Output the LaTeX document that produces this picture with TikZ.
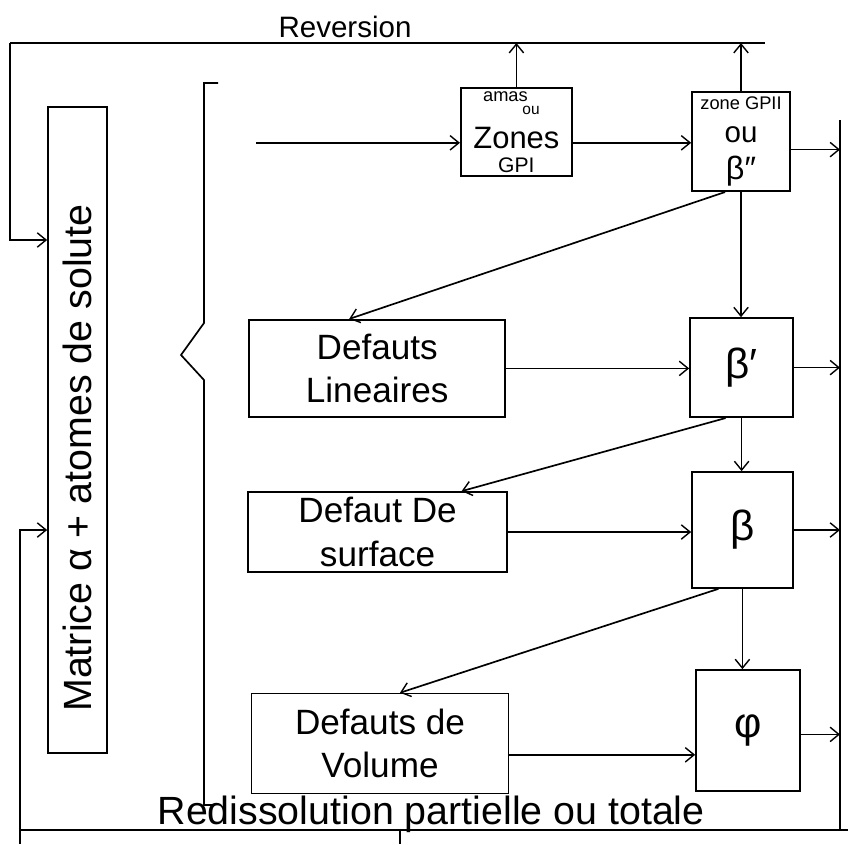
\documentclass[tikz,border=0pt]{standalone}
\usepackage{fontspec}
\setmainfont{Liberation Sans}
\usetikzlibrary{arrows.meta,calc}
\begin{document}
\begin{tikzpicture}[
 bx/.style={draw,line width=1.2pt,align=center,inner sep=2pt,
   font=\fontsize{25}{31}\selectfont},
 sm/.style={font=\fontsize{13}{11}\selectfont},
 gk/.style={font=\fontsize{30}{32}\selectfont},
 a/.style={-{Straight Barb[length=2.2mm,width=3.6mm,line width=1pt]},line width=1.2pt},
 ln/.style={line width=1.2pt}]
\useasboundingbox (0,0) rectangle (21.2,-21.1);
% boxes
\node[bx,sm,minimum width=2.78cm,minimum height=2.2cm] (gp1) at (12.91,-3.30)
  {amas\hspace*{1.2em}\\[-2pt] \hspace*{1.6em}\fontsize{11}{9}\selectfont ou\\[8pt]
   \fontsize{22}{22}\selectfont Zones\\[6pt] \fontsize{15}{17}\selectfont GPI};
\node[bx,sm,minimum width=2.45cm,minimum height=2.48cm] (gp2) at (18.525,-3.54)
  {zone GPII\\[11pt] \fontsize{21}{24}\selectfont ou\\[8pt] \fontsize{23}{24}\selectfont β″};
\node[bx,gk,minimum width=2.58cm,minimum height=2.48cm] (bp) at (18.54,-9.19) {β′};
\node[bx,gk,minimum width=2.52cm,minimum height=2.9cm] (bt) at (18.56,-13.25) {β};
\node[bx,gk,minimum width=2.6cm,minimum height=3.02cm] (phi) at (18.7,-18.26) {φ};
\node[bx,minimum width=6.4cm,minimum height=2.43cm] (dl) at (9.43,-9.21) {Defauts\\Lineaires};
\node[bx,minimum width=6.48cm,minimum height=2.0cm] (ds) at (9.44,-13.3) {Defaut De\\surface};
\node[bx,minimum width=6.43cm,minimum height=2.5cm] (dv) at (9.5,-18.59) {Defauts de\\Volume};
\node[bx,minimum width=1.48cm,minimum height=16.15cm] (mat) at (1.94,-10.75) {};
\node[rotate=90,font=\fontsize{28}{28}\selectfont] (mtx) at (1.94,-11.45)
  {Matrice α + atomes de solute};
% labels
\node[font=\fontsize{21}{21}\selectfont] (rev) at (8.625,-0.68) {Reversion};
\node[anchor=base,font=\fontsize{28}{28}\selectfont] (red) at (10.78,-20.62)
  {Redissolution partielle ou totale};
% coordinates
\coordinate (revL) at (0.25,-1.075);
\coordinate (revR) at (19.13,-1.075);
\coordinate (in0) at (6.4,-3.57);
\coordinate (m1) at (1.2,-6.0);
\coordinate (m2) at (1.2,-13.25);
\coordinate (botL) at (0.5,-20.75);
\coordinate (botR) at (21.2,-20.75);
\coordinate (colT) at (21.0,-3.0);
\coordinate (colB) at (21.0,-20.75);
% reversion and redissolution
\draw[ln] (revL) -- (revR);
\draw[a] (revL) |- (mat.west |- m1);
\draw[a] (gp1.north) -- (gp1.north |- revL);
\draw[a] (gp2.north) -- (gp2.north |- revL);
\draw[ln] (botR) -- (botL) -- ++(0,-0.35);
\draw[a] (botL) |- (mat.west |- m2);
\draw[ln] (10.0,-20.75) -- (10.0,-21.1);
% brace
\draw[ln] (5.45,-2.075) -- (5.1,-2.075) -- (5.1,-8.075) -- (4.525,-8.875)
  -- (5.1,-9.5) -- (5.1,-20.125) -- (5.3,-20.125);
% main chain
\draw[a] (in0) -- (gp1.west |- in0);
\draw[a] (gp1.east |- in0) -- (gp2.west |- in0);
\draw[a] (gp2.south) -- (gp2.south |- bp.north);
\draw[a] (bp.south) -- (bp.south |- bt.north);
\draw[a] (bt.south) -- (bt.south |- phi.north);
\draw[a] (dl.east) -- (dl.east -| bp.west);
\draw[a] (ds.east) -- (ds.east -| bt.west);
\draw[a] ([yshift=-0.28cm]dv.east) -- ([yshift=-0.28cm]dv.east -| phi.west);
\draw[a] ([xshift=-0.4cm]gp2.south) -- ([xshift=-0.7cm]dl.north);
\draw[a] ([xshift=-0.4cm]bp.south) -- ([xshift=2.1cm]ds.north);
\draw[a] ([xshift=-0.6cm]bt.south) -- ([xshift=0.5cm]dv.north);
% outputs
\draw[ln] (colT) -- (colB);
\foreach \n/\d in {gp2/-0.2,bp/0,bt/0,phi/-0.1}
  \draw[a] ([yshift=\d cm]\n.east) -- ([yshift=\d cm]\n.east -| colT);
\end{tikzpicture}
\end{document}
